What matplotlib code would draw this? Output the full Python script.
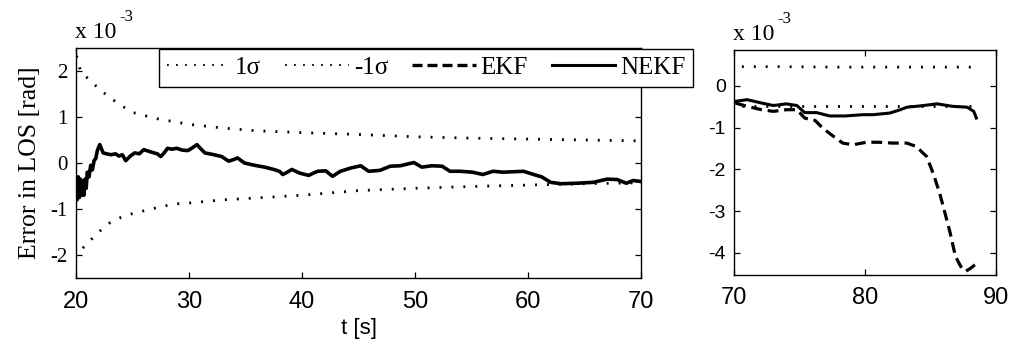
import numpy as np
import matplotlib
matplotlib.use('Agg')
import matplotlib.pyplot as plt
from matplotlib.lines import Line2D

plt.rcParams['font.family'] = ['Liberation Serif', 'DejaVu Serif']
plt.rcParams['axes.unicode_minus'] = False

#===================== DATA (values x 1e-3 rad) ==========================
# left panel, 20-70 s
sig_up_t = [20.05, 20.4, 21, 22, 23, 24, 25, 27, 30, 33, 36, 40, 45, 50, 55, 60, 65, 70]
sig_up = [2.33, 2.0, 1.85, 1.62, 1.42, 1.25, 1.1, 0.97, 0.84, 0.76, 0.7, 0.66, 0.62, 0.57, 0.54, 0.52, 0.5, 0.48]
sig_lo_t = [20.6, 21, 22, 23, 24, 25, 27, 28.7, 30, 33, 36, 40, 45, 50, 55, 60, 65, 70]
sig_lo = [-1.85, -1.75, -1.5, -1.3, -1.18, -1.1, -0.98, -0.89, -0.87, -0.8, -0.76, -0.7, -0.6, -0.55, -0.51, -0.48, -0.45, -0.43]

nekf_l_t = [20.0, 20.1, 20.2, 20.3, 20.4, 20.5, 20.6, 20.7, 20.8, 20.9, 21.0, 21.15, 21.3, 21.45,
            21.6, 21.75, 21.9, 22.1, 22.4, 22.7, 23.1, 23.5, 23.8, 24.1, 24.4, 24.8, 25.2, 25.6,
            26.0, 26.5, 26.9, 27.2, 27.5, 27.8, 28.1, 28.5, 28.9, 29.4, 29.9, 30.3, 30.7, 31.0,
            31.4, 31.8, 32.2, 32.9, 33.5, 33.9, 34.3, 34.9, 35.8, 36.7, 37.5, 38.0, 38.3, 38.7,
            39.1, 39.8, 40.6, 41.0, 41.4, 42.1, 42.7, 43.4, 44.3, 45.2, 45.9, 46.9, 47.8, 48.7,
            49.9, 50.6, 51.5, 52.4, 53.1, 54.0, 55.1, 56.0, 56.9, 57.8, 58.7, 59.6, 60.5, 61.2,
            62.0, 62.9, 64.3, 65.8, 67.0, 67.9, 68.7, 69.3, 69.9]
nekf_l = [-0.35, -0.8, -0.3, -0.75, -0.35, -0.7, -0.4, -0.7, -0.35, -0.55, -0.2, -0.3, -0.05, -0.15,
          0.05, 0.1, 0.28, 0.4, 0.22, 0.2, 0.18, 0.2, 0.15, 0.18, 0.05, 0.15, 0.22, 0.2,
          0.29, 0.25, 0.22, 0.2, 0.14, 0.22, 0.32, 0.3, 0.32, 0.28, 0.27, 0.33, 0.4, 0.32,
          0.22, 0.2, 0.18, 0.14, 0.04, 0.07, 0.11, 0.0, -0.05, -0.09, -0.14, -0.18, -0.25, -0.2,
          -0.14, -0.22, -0.27, -0.22, -0.18, -0.17, -0.29, -0.18, -0.11, -0.06, -0.18, -0.16, -0.07, -0.06,
          0.01, -0.09, -0.06, -0.07, -0.18, -0.18, -0.2, -0.25, -0.18, -0.2, -0.19, -0.18, -0.25, -0.3,
          -0.42, -0.45, -0.44, -0.42, -0.35, -0.36, -0.44, -0.38, -0.4]

# right panel, 70-90 s
sig_r_t = [70.6, 74, 78, 82, 86, 88.4]
sig_r_up = [0.46, 0.46, 0.45, 0.45, 0.45, 0.45]
sig_r_lo = [-0.48, -0.48, -0.48, -0.48, -0.48, -0.48]

nekf_r_t = [70.1, 71.0, 72.1, 73.0, 74.0, 74.8, 75.4, 76.3, 77.3, 78.5, 79.8, 80.6, 81.9, 82.7,
            83.2, 84.2, 85.5, 86.7, 87.8, 88.3, 88.5]
nekf_r = [-0.37, -0.33, -0.41, -0.47, -0.43, -0.47, -0.64, -0.64, -0.72, -0.72, -0.69, -0.69, -0.65, -0.57,
          -0.51, -0.48, -0.43, -0.49, -0.51, -0.61, -0.77]

ekf_r_t = [70.1, 71.0, 72.1, 73.0, 74.0, 74.8, 75.4, 76.2, 76.8, 77.6, 78.3, 79.1, 80.1, 81.0,
           82.1, 83.2, 83.9, 84.7, 85.2, 85.7, 86.1, 86.5, 86.9, 87.3, 87.7, 88.1, 88.4]
ekf_r = [-0.41, -0.49, -0.57, -0.61, -0.57, -0.57, -0.77, -0.83, -1.02, -1.21, -1.37, -1.41, -1.35, -1.35,
         -1.37, -1.37, -1.45, -1.69, -2.09, -2.57, -3.04, -3.52, -4.08, -4.32, -4.44, -4.36, -4.28]

leg_labels = ['1\u03c3', '-1\u03c3', 'EKF', 'NEKF']
#===================== END DATA ==========================

sans = ['Liberation Sans', 'DejaVu Sans']
dot_ls = (0, (0.7, 3.6))
dash_ls = (0, (3.4, 1.8))

fig = plt.figure(figsize=(10.11, 3.45), dpi=100)
ax1 = fig.add_axes([76/1011, 1-278/345, (641-76)/1011, (278-48)/345])
ax2 = fig.add_axes([734/1011, 1-275/345, (996-734)/1011, (275-50)/345])

# left panel
ax1.plot(sig_up_t, sig_up, color='k', lw=2.0, ls=dot_ls, dash_capstyle='butt')
ax1.plot(sig_lo_t, sig_lo, color='k', lw=2.0, ls=dot_ls, dash_capstyle='butt')
ax1.plot(nekf_l_t, nekf_l, color='k', lw=2.6)
ax1.set_xlim(20, 70)
ax1.set_ylim(-2.5, 2.5)
ax1.set_xticks([20, 30, 40, 50, 60, 70])
ax1.set_yticks([-2, -1, 0, 1, 2])
ax1.set_ylabel('Error in LOS [rad]', fontsize=18.5, labelpad=7)
ax1.set_xlabel('t [s]', family=sans, fontsize=16, labelpad=4)
for lab in ax1.get_xticklabels():
    lab.set_family(sans)
    lab.set_fontsize(17)
for lab in ax1.get_yticklabels():
    lab.set_fontsize(15)

# right panel
ax2.plot(sig_r_t, sig_r_up, color='k', lw=2.0, ls=dot_ls, dash_capstyle='butt')
ax2.plot(sig_r_t, sig_r_lo, color='k', lw=2.0, ls=dot_ls, dash_capstyle='butt')
ax2.plot(ekf_r_t, ekf_r, color='k', lw=2.3, ls=dash_ls, dash_capstyle='butt')
ax2.plot(nekf_r_t, nekf_r, color='k', lw=2.2)
ax2.set_xlim(70, 90)
ax2.set_ylim(-4.53, 0.86)
ax2.set_xticks([70, 80, 90])
ax2.set_yticks([-4, -3, -2, -1, 0])
for lab in ax2.get_xticklabels():
    lab.set_family(sans)
    lab.set_fontsize(17)
for lab in ax2.get_yticklabels():
    lab.set_family(sans)
    lab.set_fontsize(14)

# "x 10^-3" multiplier above each panel
for ax, x0, y0 in ((ax1, 75, 38), (ax2, 733, 40)):
    fig.text(x0/1011, 1-y0/345, 'x 10', fontsize=17, ha='left', va='baseline')
    fig.text((x0+44)/1011, 1-(y0-17)/345, '-3', fontsize=12, ha='left', va='baseline')

for ax in (ax1, ax2):
    ax.tick_params(direction='in', top=True, right=True, length=4, width=0.9)
    ax.tick_params(axis='x', pad=9)
    ax.tick_params(axis='y', pad=6)
    for sp in ax.spines.values():
        sp.set_linewidth(1.0)

# legend
handles = [Line2D([], [], color='k', lw=1.3, ls=(0, (1, 4))),
           Line2D([], [], color='k', lw=1.3, ls=(0, (1, 4))),
           Line2D([], [], color='k', lw=2.4, ls=(0, (3.0, 1.5))),
           Line2D([], [], color='k', lw=2.2)]
leg = ax1.legend(handles, leg_labels, ncol=4,
                 loc='upper left', bbox_to_anchor=(159/1011, 1-49/345), bbox_transform=fig.transFigure,
                 borderaxespad=0, fontsize=18, handlelength=2.55, handletextpad=0.2, columnspacing=0.95,
                 fancybox=False, framealpha=1, edgecolor='k', borderpad=0.3)
leg.get_frame().set_linewidth(1.0)

fig.savefig('out.png', dpi=100)
